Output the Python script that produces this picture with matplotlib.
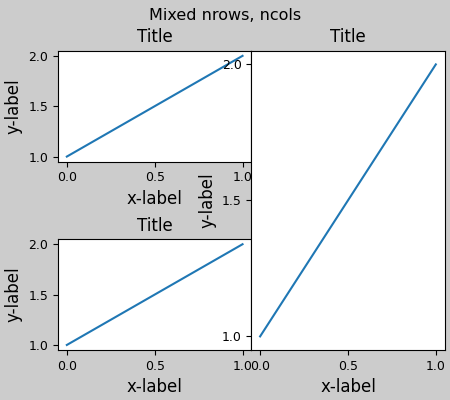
import matplotlib
matplotlib.use("Agg")
import matplotlib.pyplot as plt

# data: every panel plots the same two points
xs = [0, 1]
ys = [1, 2]
suptitle = "Mixed nrows, ncols"
title = "Title"
xlabel = "x-label"
ylabel = "y-label"


def example_plot(ax):
    ax.plot(xs, ys)
    ax.locator_params(nbins=3)
    ax.tick_params(labelsize=9)
    ax.set_xlabel(xlabel, fontsize=12)
    ax.set_ylabel(ylabel, fontsize=12)
    ax.set_title(title, fontsize=12)


fig = plt.figure(figsize=(4.5, 4), dpi=100, facecolor="0.8")
gs0 = fig.add_gridspec(1, 2, left=0.129, right=0.988, bottom=0.125, top=0.873, wspace=0)
gs1 = gs0[0].subgridspec(2, 1, hspace=0.70)

ax1 = fig.add_subplot(gs1[0])
ax2 = fig.add_subplot(gs1[1])
ax3 = fig.add_subplot(gs0[1])
for ax in (ax1, ax2, ax3):
    example_plot(ax)

fig.suptitle(suptitle, fontsize=11.5)
fig.savefig("out.png", facecolor=fig.get_facecolor())
